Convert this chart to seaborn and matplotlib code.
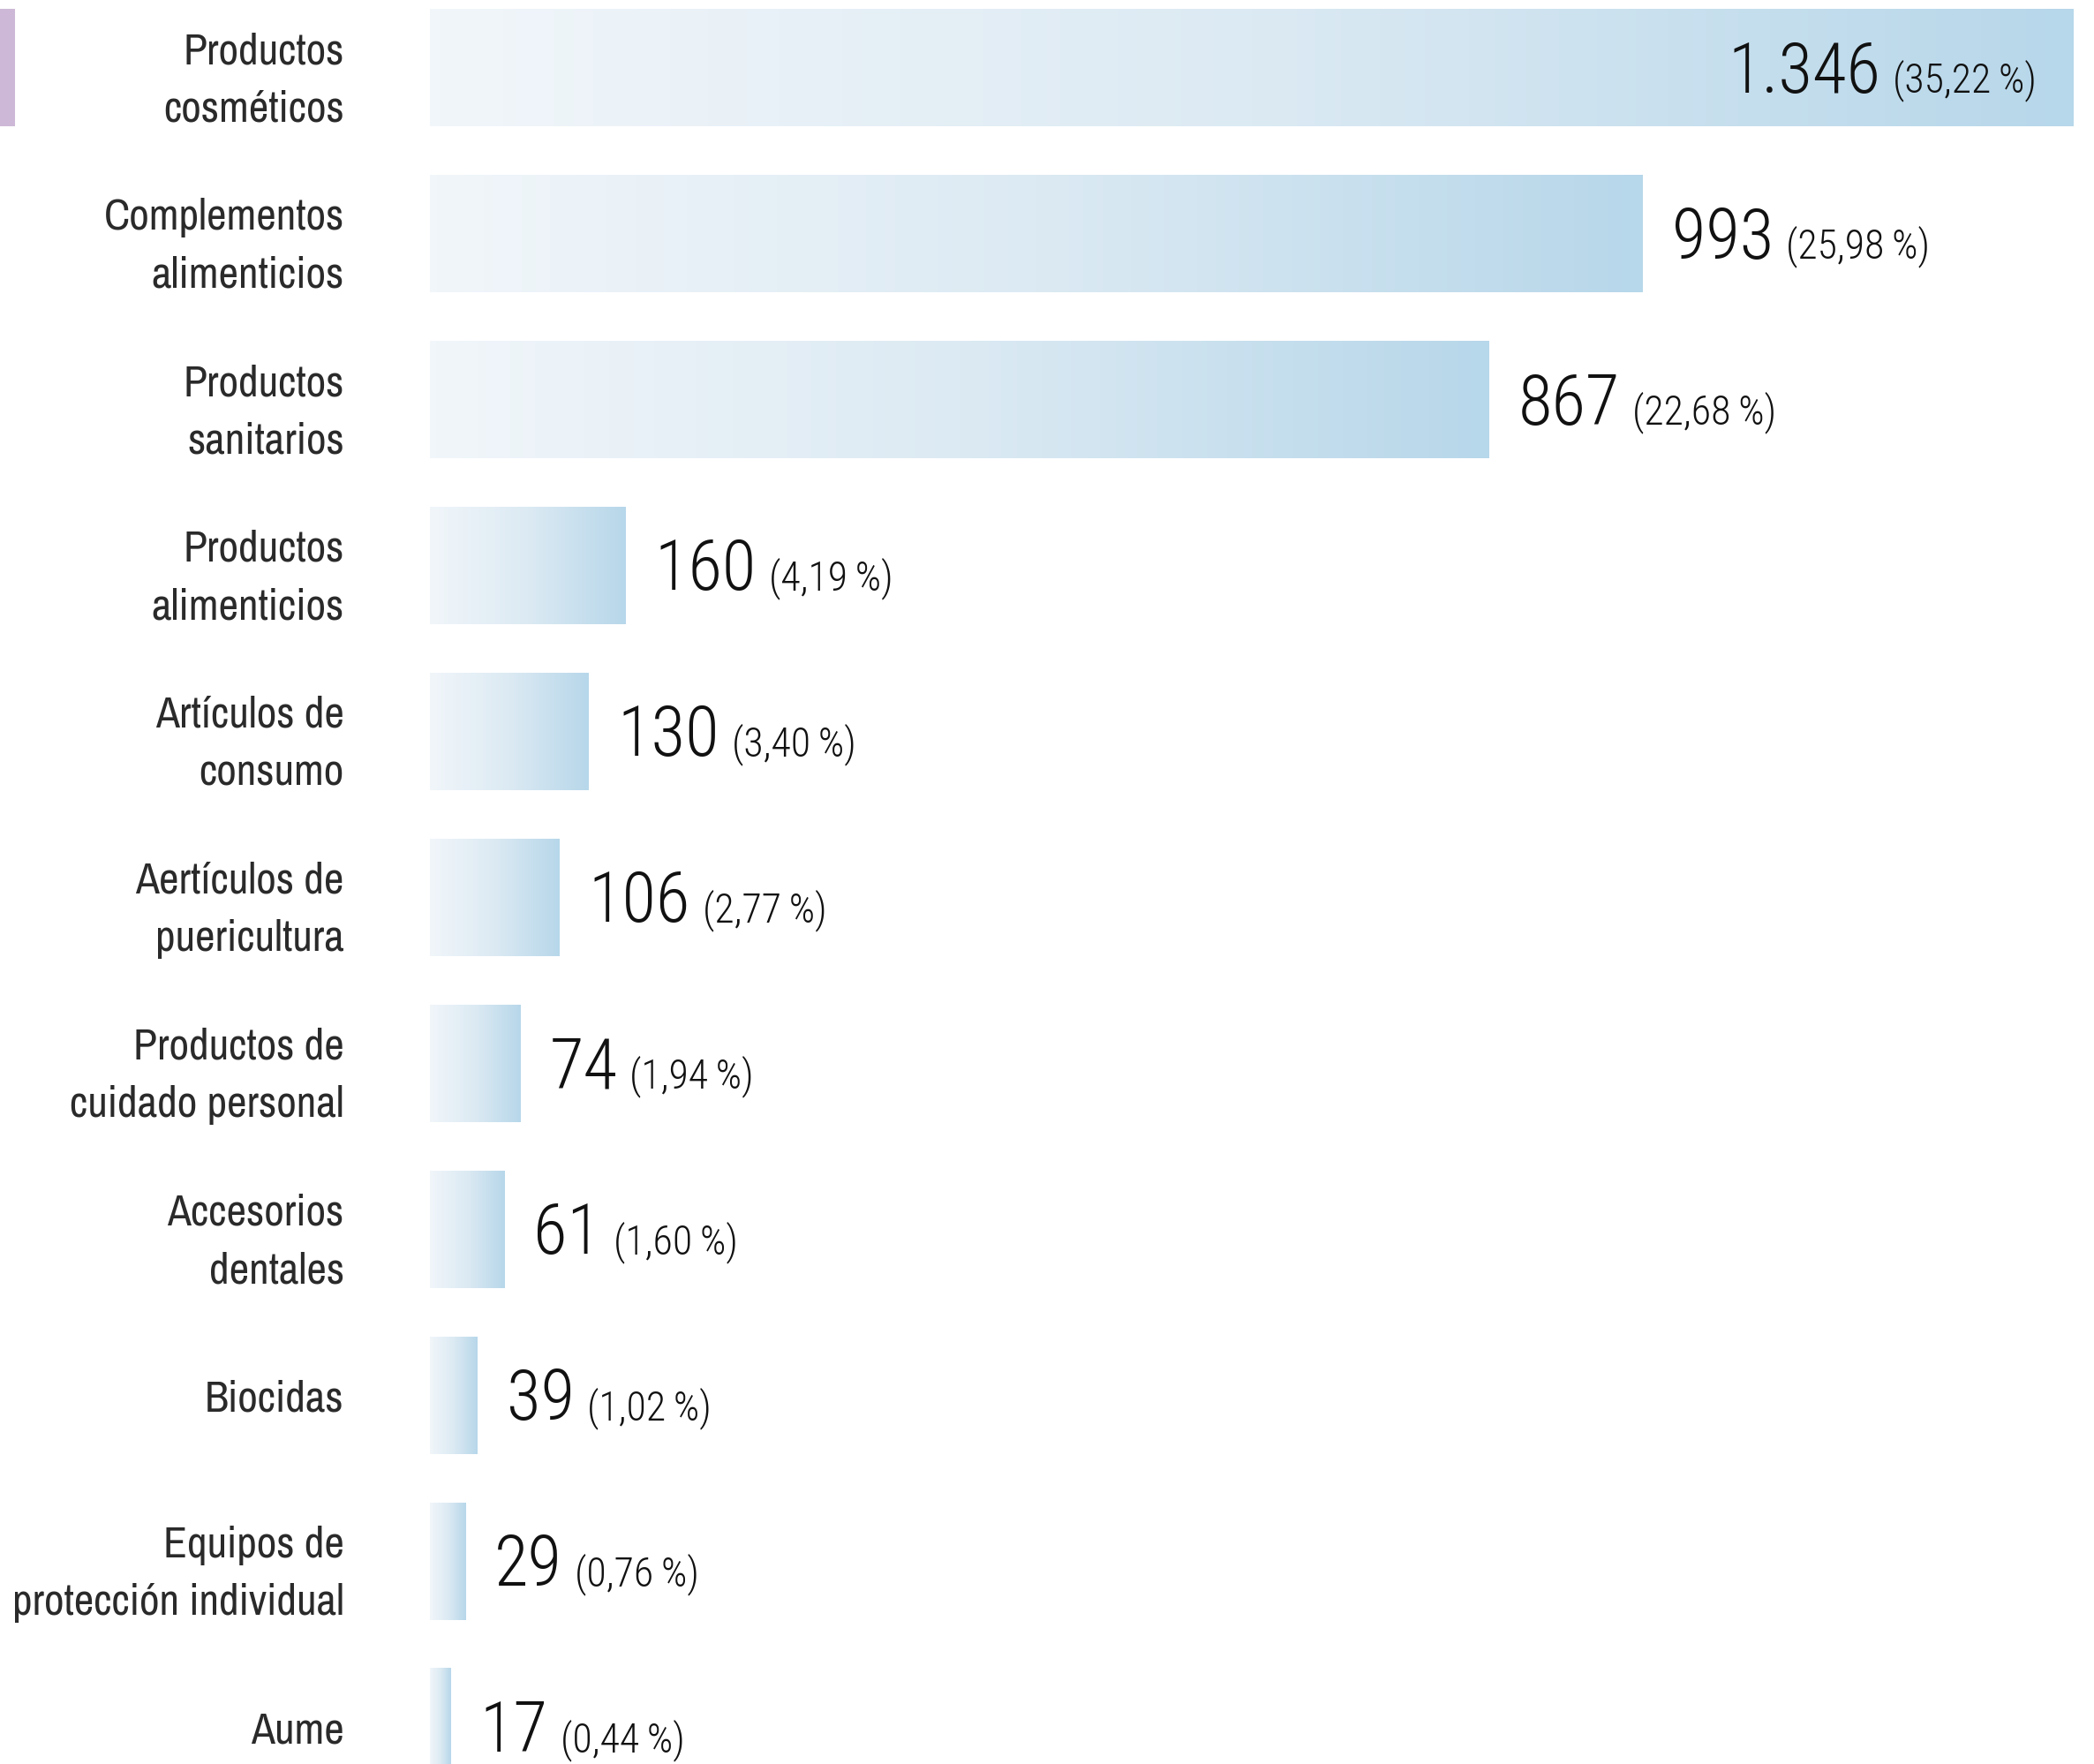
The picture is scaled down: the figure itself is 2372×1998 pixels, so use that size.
import numpy as np
import matplotlib
matplotlib.use("Agg")
import matplotlib.pyplot as plt
from matplotlib.colors import LinearSegmentedColormap
from matplotlib.patches import Rectangle
from matplotlib.transforms import IdentityTransform, blended_transform_factory
import seaborn as sns
import pandas as pd

categories = [
    "Productos\ncosméticos",
    "Complementos\nalimenticios",
    "Productos\nsanitarios",
    "Productos\nalimenticios",
    "Artículos de\nconsumo",
    "Aertículos de\npuericultura",
    "Productos de\ncuidado personal",
    "Accesorios\ndentales",
    "Biocidas",
    "Equipos de\nprotección individual",
    "Aume",
]
values = [1346, 993, 867, 160, 130, 106, 74, 61, 39, 29, 17]
percents = [35.22, 25.98, 22.68, 4.19, 3.40, 2.77, 1.94, 1.60, 1.02, 0.76, 0.44]

sns.set_theme(style="white")
LABEL_FONT = ["Archivo Narrow", "Roboto Condensed", "Liberation Sans", "DejaVu Sans"]
NUM_FONT = ["Roboto Condensed", "Roboto", "Liberation Sans", "DejaVu Sans"]
plt.rcParams["font.family"] = LABEL_FONT

W, H, DPI = 2372, 1998, 100
fig = plt.figure(figsize=(W / DPI, H / DPI), dpi=DPI)
ax = fig.add_axes([487 / W, 0, (2349 - 487) / W, 1])

df = pd.DataFrame({"cat": categories, "val": values})
sns.barplot(data=df, x="val", y="cat", orient="h", ax=ax, width=0.707,
            color="#b8d8ea", saturation=1)

cmap = LinearSegmentedColormap.from_list("g", ["#f1f6fa", "#dceaf3", "#b7d7ea"])
grad = np.linspace(0, 1, 256).reshape(1, -1)
for p in ax.patches:
    x0, y0 = p.get_x(), p.get_y()
    w, h = p.get_width(), p.get_height()
    p.set_facecolor("none")
    p.set_edgecolor("none")
    ax.imshow(grad, extent=(x0, x0 + w, y0 + h, y0), aspect="auto",
              cmap=cmap, origin="upper", zorder=1, interpolation="bilinear")

ax.set_xlim(0, max(values))
ax.set_ylim(10.221, -0.407)
ax.set_xlabel("")
ax.set_ylabel("")
ax.set_xticks([])
for s in ax.spines.values():
    s.set_visible(False)
ax.tick_params(axis="y", length=0, pad=70)
for lab in ax.get_yticklabels():
    lab.set_fontsize(35.5)
    lab.set_color("#2a2a2a")
    lab.set_linespacing(1.56)
    lab.set_ha("right")
    lab.set_multialignment("right")
    lab.set_fontfamily(LABEL_FONT)

# purple marker next to first category
tr = blended_transform_factory(fig.transFigure, ax.transData)
fig.add_artist(Rectangle((0, -0.3535), 17 / W, 0.707, transform=tr,
                         facecolor="#cdb9d7", edgecolor="none"))

fig.canvas.draw()
renderer = fig.canvas.get_renderer()

def fmt_num(v):
    return f"{v:,}".replace(",", ".")

def fmt_pct(p):
    return "(" + f"{p:.2f}".replace(".", ",") + "\u2009%)"

vmax = max(values)
for i, (v, pc) in enumerate(zip(values, percents)):
    xe, yc = ax.transData.transform((v, i))
    base = yc - 28
    if v == vmax:
        t2 = fig.text(xe - 42, base, fmt_pct(pc), transform=IdentityTransform(),
                      fontsize=33, color="#111111", ha="right", va="baseline",
                      family=NUM_FONT, weight="light")
        bb = t2.get_window_extent(renderer)
        fig.text(bb.x0 - 14, base, fmt_num(v), transform=IdentityTransform(),
                 fontsize=57, color="#111111", ha="right", va="baseline",
                 family=NUM_FONT, weight="light")
    else:
        t1 = fig.text(xe + 33, base, fmt_num(v), transform=IdentityTransform(),
                      fontsize=57, color="#111111", ha="left", va="baseline",
                      family=NUM_FONT, weight="light")
        bb = t1.get_window_extent(renderer)
        fig.text(bb.x1 + 14, base, fmt_pct(pc), transform=IdentityTransform(),
                 fontsize=33, color="#111111", ha="left", va="baseline",
                 family=NUM_FONT, weight="light")

fig.savefig("out.png", dpi=DPI, facecolor="white")
